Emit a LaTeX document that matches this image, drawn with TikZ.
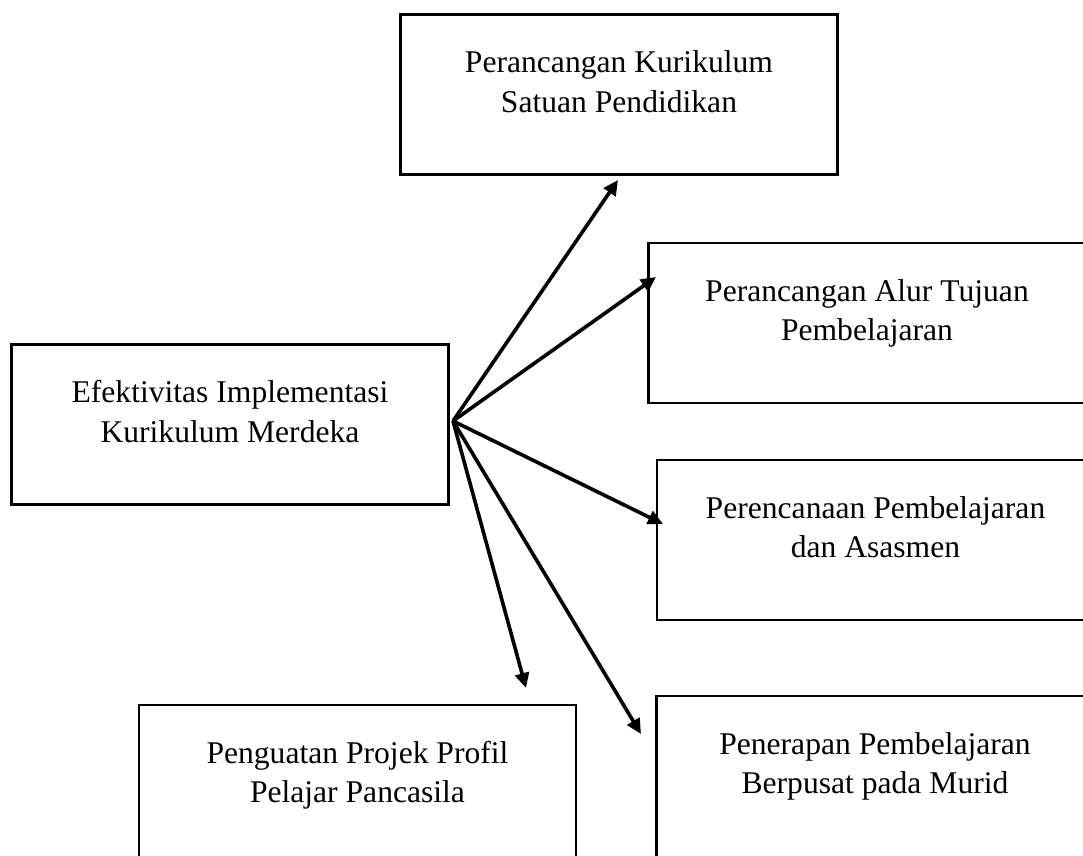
\documentclass[tikz,border=0pt]{standalone}
\usepackage{fontspec}
\setmainfont{Liberation Serif}
\usetikzlibrary{arrows.meta,positioning}

\begin{document}
\begin{tikzpicture}[x=0.5pt,y=-0.5pt,
  box/.style={draw,line width=1.2pt,minimum width=218.5pt,minimum height=80pt,inner sep=0pt},
  txt/.style={align=center,inner sep=0pt,font=\fontsize{15.8}{19.75}\selectfont},
  arr/.style={line width=1.8pt,-{Triangle[length=7.5pt,width=7pt]}}]
\clip (0,0) rectangle (1083,856);
% boxes (centres in px of the 1083x856 frame, some run off the edge)
\node[box] (ikm)    at (230,424.5) {};
\node[box] (ktsp)   at (619,94.5)  {};
\node[box] (atp)    at (867,323)   {};
\node[box] (asesmen) at (875.5,540) {};
\node[box] (p5)     at (357.5,785) {};
\node[box,minimum height=84pt] (murid) at (875,780) {};

% texts sit in the upper part of each box
\node[txt,below=18.5pt of ikm.north]     {Efektivitas Implementasi\\Kurikulum Merdeka};
\node[txt,below=18.5pt of ktsp.north]    {Perancangan Kurikulum\\Satuan Pendidikan};
\node[txt,below=18.5pt of atp.north]     {Perancangan Alur Tujuan\\Pembelajaran};
\node[txt,below=18.5pt of asesmen.north] {Perencanaan Pembelajaran\\dan Asasmen};
\node[txt,below=18.5pt of p5.north]      {Penguatan Projek Profil\\Pelajar Pancasila};
\node[txt,below=18.5pt of murid.north]   {Penerapan Pembelajaran\\Berpusat pada Murid};

% arrows fan out from one point right of the main box
\coordinate (hub) at (453,421);
\coordinate (toktsp) at (618,180);
\coordinate (toatp) at (656,277);
\coordinate (toasesmen) at (663,524);
\coordinate (top5) at (526,688);
\coordinate (tomurid) at (641,734);
\foreach \t in {toktsp,toatp,toasesmen,top5,tomurid}
  \draw[arr] (hub) -- (\t);
\end{tikzpicture}
\end{document}
